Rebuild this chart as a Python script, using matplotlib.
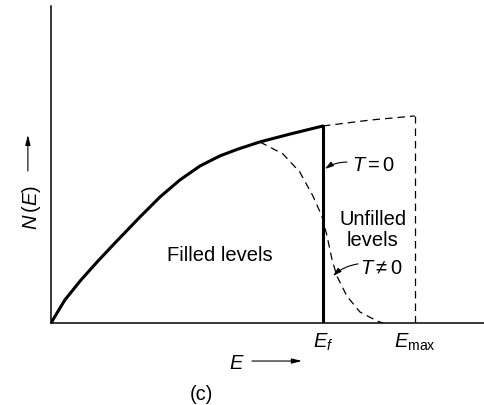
import numpy as np
import matplotlib
matplotlib.use('Agg')
import matplotlib.pyplot as plt

plt.rcParams['font.family'] = ['Liberation Sans', 'DejaVu Sans']
plt.rcParams['mathtext.fontset'] = 'custom'
plt.rcParams['mathtext.rm'] = 'Liberation Sans'
plt.rcParams['mathtext.it'] = 'Liberation Sans:italic'

##############################################################################

# density of states, E in units of Ef, N in units of N(Ef)
E_filled = [0, 0.051, 0.110, 0.173, 0.235, 0.327, 0.401, 0.474, 0.548, 0.621, 0.688, 0.768, 0.879, 1.0]
N_filled = [0, 0.117, 0.218, 0.315, 0.406, 0.538, 0.640, 0.726, 0.797, 0.848, 0.883, 0.919, 0.959, 1.0]

# empty part of the band, Ef .. Emax
E_empty = [1.0, 1.173, 1.338]
N_empty = [1.0, 1.030, 1.051]

# occupied states at T != 0
E_warm = [0.768, 0.853, 0.915, 0.963, 0.996, 1.015, 1.033, 1.051, 1.088, 1.136, 1.199, 1.221]
N_warm = [0.919, 0.858, 0.766, 0.645, 0.543, 0.442, 0.325, 0.239, 0.137, 0.056, 0.010, 0.0]

Ef = 1.0
Emax = 1.338
LW = 2.2
FS = 14.5

##############################################################################

fig = plt.figure(figsize=(4.85, 4.06), dpi=100)
ax = fig.add_axes([51/485, 82/406, 434/485, 317/406])
ax.set_xlim(0, 1.596)
ax.set_ylim(0, 1.609)
ax.set_xticks([])
ax.set_yticks([])
for s in ['top', 'right']:
    ax.spines[s].set_visible(False)
for s in ['left', 'bottom']:
    ax.spines[s].set_linewidth(1.1)

# curves
ax.plot(E_filled, N_filled, color='k', lw=LW, solid_capstyle='round', solid_joinstyle='round')
ax.plot([Ef, Ef], [0, N_filled[-1]], color='k', lw=LW)
ax.plot(E_empty, N_empty, color='k', lw=0.9, dashes=(6, 4))
ax.plot([Emax, Emax], [0, N_empty[-1]], color='k', lw=0.9, dashes=(6, 4))
ax.plot(E_warm, N_warm, color='k', lw=0.9, dashes=(6, 4))

# labels inside
ax.text(0.621, 0.350, 'Filled levels', fontsize=FS, ha='center', va='center')
ax.text(1.184, 0.477, 'Unfilled\nlevels', fontsize=FS, ha='center', va='center', linespacing=1.1)
arrow = dict(arrowstyle='-|>,head_length=0.5,head_width=0.15', color='k', lw=0.8,
             connectionstyle='arc3,rad=0.15', shrinkA=0, shrinkB=0)
ax.annotate('', xy=(1.007, 0.782), xytext=(1.088, 0.817), arrowprops=arrow)
ax.text(1.187, 0.807, '$T = 0$', fontsize=FS, ha='center', va='center')
ax.annotate('', xy=(1.037, 0.239), xytext=(1.129, 0.300), arrowprops=arrow)
ax.text(1.215, 0.284, r'$T \neq 0$', fontsize=FS, ha='center', va='center')

# axis labels
ax.text(Ef, -0.091, '$E_f$', fontsize=FS, ha='center', va='center', clip_on=False)
ax.text(Emax, -0.091, r'$E_{\mathrm{max}}$', fontsize=FS, ha='center', va='center', clip_on=False)
ax.text(0.684, -0.198, '$E$', fontsize=FS, ha='center', va='center', clip_on=False)
ax.annotate('', xy=(0.923, -0.193), xytext=(0.739, -0.193), annotation_clip=False,
            arrowprops=dict(arrowstyle='-|>,head_length=0.6,head_width=0.15', color='k', lw=0.8,
                            shrinkA=0, shrinkB=0))
ax.text(-0.070, 0.589, '$N\\,(E)$', fontsize=FS, rotation=90, ha='center', va='center', clip_on=False)
ax.annotate('', xy=(-0.085, 0.955), xytext=(-0.085, 0.772), annotation_clip=False,
            arrowprops=dict(arrowstyle='-|>,head_length=0.6,head_width=0.15', color='k', lw=0.8,
                            shrinkA=0, shrinkB=0))
ax.text(0.555, -0.360, '(c)', fontsize=FS, ha='center', va='center', clip_on=False)

fig.savefig('out.png', dpi=100)
